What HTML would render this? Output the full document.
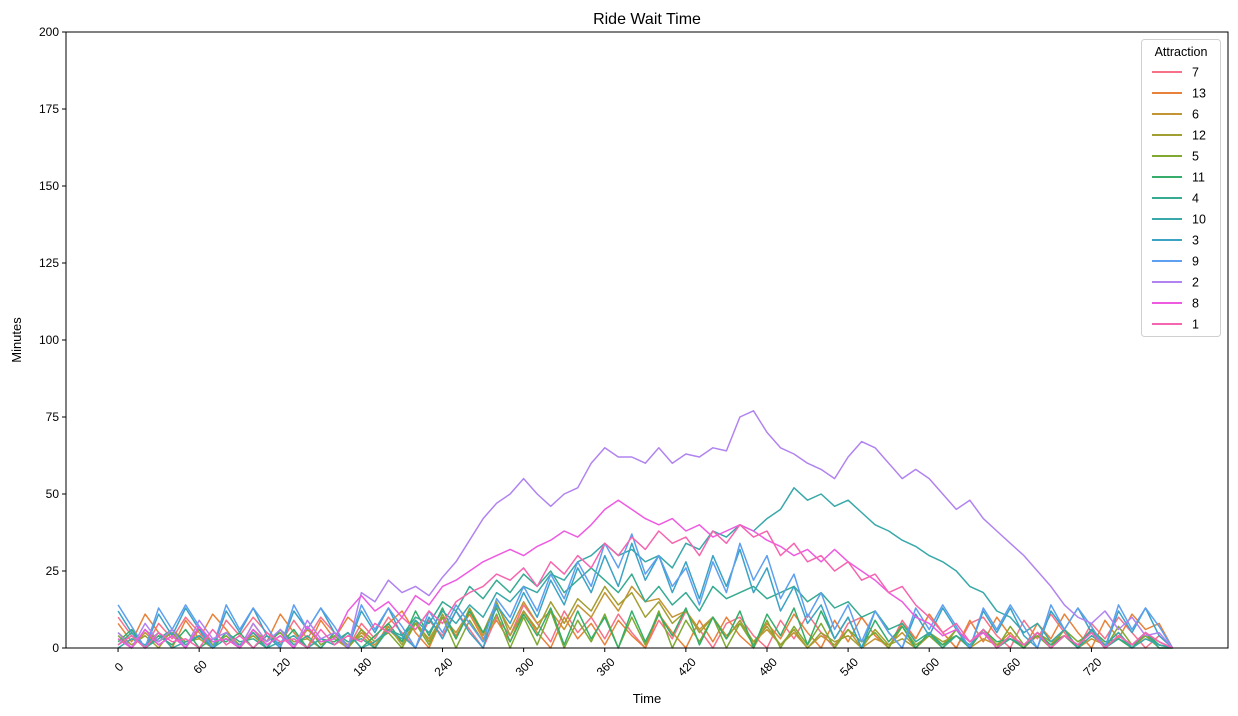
<!DOCTYPE html>
<html><head><meta charset="utf-8"><style>
html,body{margin:0;padding:0;background:#fff;}
svg{display:block;font-family:"Liberation Sans","DejaVu Sans",sans-serif;}
</style></head><body>
<svg id="chart" width="1238" height="716" viewBox="0 0 1238 716" xmlns="http://www.w3.org/2000/svg">
<rect x="0" y="0" width="1238" height="716" fill="#fff"/>
<text x="647" y="24" font-size="16" text-anchor="middle">Ride Wait Time</text>
<text x="647" y="703" font-size="13" text-anchor="middle">Time</text>
<text transform="translate(21,340) rotate(-90)" font-size="13" text-anchor="middle">Minutes</text>
<g id="series"></g>
<g id="axes"></g>
<g id="legend"></g>
</svg>
<script>
const seriesNames = ["7","13","6","12","5","11","4","10","3","9","2","8","1"];
const seriesColors = ["#f77189","#e8823a","#c39534","#a29f32","#7fa932","#36ad6a","#37ab92","#39a8a9","#3ba3c4","#5e9ff0","#b183f0","#ee5be1","#f565b0"];
const timeStep = 10;
const xTicks = [0,60,120,180,240,300,360,420,480,540,600,660,720];
const yTicks = [0,25,50,75,100,125,150,175,200];
const s7 = [10,4,0,8,3,10,5,0,9,4, 10,5,1,9,3,10,5,0,8,3, 10,5,0,9,4,12,6,0,10,4, 14,8,2,12,5,10,3,11,5,0, 9,3,12,6,0,8,10,4,0,9, 3,11,5,0,8,10,4,0,9,3, 11,5,0,8,10,4,0,9,3,11, 5,0,8,3,10,5,0,4,0];
const s13 = [8,2,11,5,0,9,3,11,6,0, 8,2,11,5,0,9,3,10,6,0, 8,12,5,0,10,4,11,3,9,2, 12,5,0,10,3,8,1,9,4,0, 11,5,0,9,2,10,4,0,8,3, 11,5,0,9,2,10,4,0,8,3, 11,5,0,9,2,10,4,0,8,3, 11,5,0,9,3,11,6,8,0];
const s6 = [3,0,5,1,4,0,6,2,3,0, 5,1,4,0,6,2,3,0,5,1, 6,2,8,3,10,5,12,4,14,6, 15,8,12,6,14,10,18,12,20,15, 16,10,12,6,10,4,8,2,6,1, 5,0,4,1,6,0,3,1,5,0, 4,1,6,0,3,1,5,0,4,1, 6,0,3,1,5,0,4,1,0];
const s12 = [5,1,4,0,6,2,3,0,5,1, 4,0,6,2,3,0,5,1,4,0, 7,1,9,2,11,3,13,5,15,4, 12,6,15,8,16,12,20,14,18,10, 15,8,12,5,10,3,9,2,7,1, 6,0,5,2,4,0,6,1,3,0, 5,2,4,0,6,1,3,0,5,2, 4,0,6,1,3,0,5,2,0];
const s5 = [4,0,6,2,5,0,7,1,4,0, 6,2,5,0,7,1,4,0,6,2, 5,0,8,1,10,0,9,2,11,0, 10,1,12,0,9,2,11,0,10,1, 12,0,9,2,10,0,8,1,9,0, 7,1,8,0,6,2,5,0,7,1, 4,0,6,2,5,0,7,1,4,0, 6,2,5,0,7,1,4,0,0];
const s11 = [2,6,0,4,1,6,0,3,2,5, 0,4,1,6,0,3,2,5,0,4, 8,2,12,4,13,3,12,5,13,2, 11,4,13,1,12,3,10,0,12,2, 11,4,13,1,10,3,12,0,11,4, 13,1,12,3,10,0,9,2,7,0, 5,1,4,0,6,2,3,0,5,1, 4,0,6,2,3,0,5,1,0];
const s4 = [1,5,0,3,6,1,4,0,5,2, 3,0,6,1,4,0,5,2,3,0, 6,4,10,8,15,12,20,16,22,18, 24,20,25,18,22,26,22,18,24,15, 20,14,18,12,20,16,18,20,16,18, 20,15,18,13,15,10,12,6,8,2, 5,0,4,1,6,0,3,1,5,0, 4,1,6,0,3,1,5,0,0];
const s10 = [0,3,1,5,0,2,4,0,3,1, 5,0,2,4,0,3,1,5,0,2, 6,3,9,5,12,8,14,10,18,15, 20,18,24,22,28,30,34,30,32,28, 30,26,34,32,38,36,40,38,42,45, 52,48,50,46,48,44,40,38,35,33, 30,28,25,20,18,12,10,5,8,2, 6,0,4,1,5,0,3,1,0];
const s3 = [12,5,0,11,4,13,6,0,12,5, 13,4,0,12,6,13,5,0,12,5, 13,4,0,10,3,12,5,0,14,8, 18,10,22,14,26,18,30,20,34,22, 30,18,28,16,30,20,32,18,26,12, 20,8,14,3,10,0,12,5,0,11, 4,13,6,0,12,5,13,4,0,12, 6,13,5,0,12,5,13,4,0];
const s9 = [14,7,0,13,6,14,7,0,14,6, 13,7,0,14,6,13,7,0,14,6, 13,7,0,12,5,14,8,2,16,10, 20,12,24,16,28,20,34,26,37,24, 30,20,26,14,28,18,34,22,30,16, 24,10,18,6,14,2,12,5,0,13, 6,14,7,0,13,6,14,7,0,14, 6,13,7,0,14,6,13,7,0];
const s2 = [5,0,8,2,6,0,9,3,5,0, 8,2,6,0,9,3,5,0,18,15, 22,18,20,17,23,28,35,42,47,50, 55,50,46,50,52,60,65,62,62,60, 65,60,63,62,65,64,75,77,70,65, 63,60,58,55,62,67,65,60,55,58, 55,50,45,48,42,38,34,30,25,20, 14,10,8,12,6,10,4,5,0];
const s8 = [3,0,6,1,4,0,7,2,3,0, 6,1,4,0,7,2,3,12,17,12, 15,10,17,14,20,22,25,28,30,32, 30,33,35,38,36,40,45,48,45,42, 40,42,38,40,36,38,40,38,35,33, 30,32,28,32,28,25,22,18,15,10, 8,4,6,2,5,0,4,1,5,0, 4,1,5,0,4,1,5,2,0];
const s1 = [1,4,0,5,2,3,0,6,1,4, 0,5,2,3,0,6,1,4,2,8, 5,10,6,12,8,15,18,20,24,22, 26,20,28,24,30,26,34,30,36,32, 38,34,36,30,38,34,40,36,38,30, 34,28,30,25,28,22,24,18,20,14, 10,5,8,2,6,0,4,1,5,0, 4,1,5,0,4,1,5,2,0];
const seriesValues = [s7,s13,s6,s12,s5,s11,s4,s10,s3,s9,s2,s8,s1];

const NS="http://www.w3.org/2000/svg";
const plotL=66, plotR=1228, plotT=32, plotB=648;
const xMin=-38.5, xMax=821, yMin=0, yMax=200;
function xScale(t){return plotL+(t-xMin)/(xMax-xMin)*(plotR-plotL);}
function yScale(v){return plotB-(v-yMin)/(yMax-yMin)*(plotB-plotT);}
function mk(tag,attrs,parent){const e=document.createElementNS(NS,tag);for(const k in attrs)e.setAttribute(k,attrs[k]);parent.appendChild(e);return e;}

const sg=document.getElementById('series');
seriesValues.forEach((vals,i)=>{
  const d=vals.map((v,j)=>(j?'L':'M')+xScale(j*timeStep).toFixed(1)+','+yScale(v).toFixed(1)).join(' ');
  const p=mk('path',{d:d,fill:'none',stroke:seriesColors[i],'stroke-width':1.5,'stroke-linejoin':'round'},sg);
  
  
});

const ax=document.getElementById('axes');
const frame=mk('rect',{x:plotL,y:plotT,width:plotR-plotL,height:plotB-plotT,fill:'none',stroke:'#000','stroke-width':1},ax);


xTicks.forEach(t=>{
  const x=xScale(t);
  const tk=mk('line',{x1:x,x2:x,y1:plotB,y2:plotB+4,stroke:'#000'},ax);
  
  
  const lb=mk('text',{x:0,y:0,'font-size':12,'text-anchor':'middle','dominant-baseline':'central',transform:`translate(${x+1},${plotB+19}) rotate(-45)`},ax);
  lb.textContent=t;
  
  
});
yTicks.forEach(v=>{
  const y=yScale(v);
  const tk=mk('line',{x1:plotL-4,x2:plotL,y1:y,y2:y,stroke:'#000'},ax);
  
  
  const lb=mk('text',{x:plotL-7,y:y+4,'font-size':12,'text-anchor':'end'},ax);
  lb.textContent=v;
  
  
});

const lg=document.getElementById('legend');
const box=mk('rect',{x:1141.5,y:39.5,width:79,height:297,rx:3,fill:'#fff','fill-opacity':0.8,stroke:'#d0d0d0'},lg);


const lt=mk('text',{x:1181,y:56,'font-size':12.5,'text-anchor':'middle'},lg);
lt.textContent='Attraction';


seriesNames.forEach((n,i)=>{
  const y=72+i*21;
  const g=mk('g',{},lg);
  
  
  mk('line',{x1:1152,x2:1182,y1:y,y2:y,stroke:seriesColors[i],'stroke-width':2},g);
  const t=mk('text',{x:1192,y:y+4.5,'font-size':12.5},g);
  t.textContent=n;
});
</script>
</body></html>
